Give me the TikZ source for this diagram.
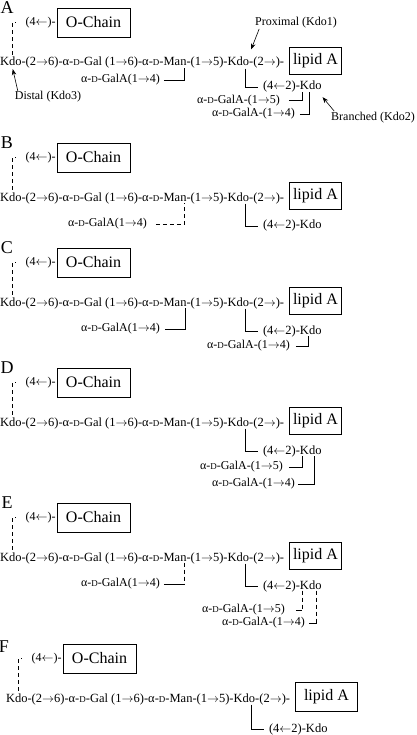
\documentclass[tikz,border=0pt]{standalone}
\usepackage{fontspec}
\setmainfont{Liberation Serif}
\usetikzlibrary{arrows.meta}
\newcommand\Dsc{{\fontsize{9}{9}\selectfont D}}
\newcommand\ra{\ensuremath{\rightarrow}}
\newcommand\la{\ensuremath{\leftarrow}}
\tikzset{
 txt/.style={inner xsep=0pt, inner ysep=0.5pt, outer sep=0pt, font=\fontsize{12}{14}\selectfont},
 seg/.style={txt, anchor=base west, inner ysep=0pt, font=\fontsize{12.5}{14}\selectfont},
 box/.style={draw, line width=0.8pt, inner sep=0pt, font=\fontsize{16}{18}\selectfont},
 letter/.style={inner sep=0pt, font=\fontsize{18}{20}\selectfont},
 link/.style={line width=0.7pt},
 dlink/.style={line width=0.7pt, dash pattern=on 4pt off 3pt},
 pointer/.style={line width=0.6pt, -{Stealth[length=6pt,width=4.5pt]}},
}
\newcommand\backbone[3]{%
 \node[seg] (#1kdo3) at (0,66) {Kdo};
 \node[seg] (#1m2) at (#1kdo3.base east) {-(2\ra6)-α-\Dsc-Gal (1\ra6)-α-\Dsc-};
 \node[seg] (#1man) at (#1m2.base east) {Man};
 \node[seg] (#1m4) at (#1man.base east) {-(1\ra5)-};
 \node[seg] (#1kdo1) at (#1m4.base east) {Kdo};
 \node[seg] (#1m6) at (#1kdo1.base east) {-(2\ra)-};
 \node[box, minimum width=73pt, minimum height=29pt] (#1och) at (93.5,22.5) {O-Chain};
 \node[txt, anchor=east, inner xsep=1pt] (#1lnk) at (#1och.west) {(4\la)-};
 \draw[dlink] ([xshift=2pt,yshift=2.5pt]#1kdo3.north) |- ([xshift=-9pt]#1lnk.west);
 \node[box, minimum width=#2, minimum height=#3, anchor=west] (#1lip) at ([xshift=5pt]#1m6.east |- 0,60.5) {lipid A};
}
\newcommand\branch[2]{%
 \node[seg] (#1b) at (263,#2) {(4\la2)-};
 \node[seg] (#1kdo2) at (#1b.base east) {Kdo};
 \draw[link] ([xshift=-4pt,yshift=-2.5pt]#1kdo1.south east) |- ([xshift=-5pt]#1b.west);
}
\begin{document}
\begin{tikzpicture}[x=1pt,y=-1pt]
\useasboundingbox[fill=white] (0,0) rectangle (416,735);
% ---------- A
\begin{scope}
 \node[letter] (Alet) at (7,8) {A};
 \backbone{A}{52pt}{27pt}
 \branch{A}{90}
 \node[txt, anchor=west] (Agal) at (81,80) {α-\Dsc-GalA(1\ra4)};
 \draw[link] ([xshift=4pt]Agal.east) -| ([xshift=-2pt,yshift=-1.5pt]Aman.south east);
 \node[txt, anchor=west] (Ag5) at (197,100.5) {α-\Dsc-GalA-(1\ra5)};
 \draw[link] ([xshift=9pt]Ag5.east) -| ([xshift=2pt,yshift=-1.5pt]Akdo2.south west);
 \node[txt, anchor=west] (Ag4) at (212,114) {α-\Dsc-GalA-(1\ra4)};
 \draw[link] ([xshift=5pt]Ag4.east) -| ([xshift=-1pt,yshift=-1.5pt]Akdo2.south);
 \node[txt] (Aprox) at (296,23) {Proximal (Kdo1)};
 \draw[pointer] ([xshift=4pt]Aprox.south west) -- ([xshift=2pt,yshift=8pt]Akdo1.north east);
 \node[txt] (Adist) at (48,97) {Distal (Kdo3)};
 \draw[pointer] ([xshift=3pt]Adist.north west) -- ([xshift=2pt,yshift=-3pt]Akdo3.south);
 \node[txt] (Abr) at (373,118) {Branched (Kdo2)};
 \draw[pointer] ([xshift=3pt,yshift=1pt]Abr.north west) -- ([xshift=1pt,yshift=-7pt]Akdo2.south east);
\end{scope}
% ---------- B
\begin{scope}[shift={(0,135)}]
 \node[letter] (Blet) at (7,8) {B};
 \backbone{B}{52pt}{27pt}
 \branch{B}{94}
 \node[txt, anchor=west] (Bgal) at (68,89) {α-\Dsc-GalA(1\ra4)};
 \draw[dlink] ([xshift=9pt]Bgal.east) -| ([xshift=-2pt,yshift=-1.5pt]Bman.south east);
\end{scope}
% ---------- C
\begin{scope}[shift={(0,240)}]
 \node[letter] (Clet) at (7,8) {C};
 \backbone{C}{52pt}{27pt}
 \branch{C}{94}
 \node[txt, anchor=west] (Cgal) at (81,89) {α-\Dsc-GalA(1\ra4)};
 \draw[link] ([xshift=5pt]Cgal.east) -| ([xshift=-1pt,yshift=-1.5pt]Cman.south east);
 \node[txt, anchor=west] (Cg4) at (207,106) {α-\Dsc-GalA-(1\ra4)};
 \draw[link] ([xshift=6pt]Cg4.east) -| ([xshift=-2pt,yshift=-1.5pt]Ckdo2.south);
\end{scope}
% ---------- D
\begin{scope}[shift={(0,360)}]
 \node[letter] (Dlet) at (7,8) {D};
 \backbone{D}{52pt}{27pt}
 \branch{D}{94}
 \node[txt, anchor=west] (Dg5) at (200,107) {α-\Dsc-GalA-(1\ra5)};
 \draw[link] ([xshift=6pt]Dg5.east) -| ([xshift=2pt,yshift=-1.5pt]Dkdo2.south west);
 \node[txt, anchor=west] (Dg4) at (212,124) {α-\Dsc-GalA-(1\ra4)};
 \draw[link] ([xshift=3pt]Dg4.east) -| ([xshift=-7pt,yshift=-1.5pt]Dkdo2.south east);
\end{scope}
% ---------- E
\begin{scope}[shift={(0,495)}]
 \node[letter] (Elet) at (7,8) {E};
 \backbone{E}{52pt}{27pt}
 \branch{E}{94}
 \node[txt, anchor=west] (Egal) at (81,89) {α-\Dsc-GalA(1\ra4)};
 \draw[dlink] ([xshift=-2pt,yshift=-1.5pt]Eman.south east) -- ([xshift=-2pt]Eman.south east |- Egal.east);
 \draw[link] ([xshift=4pt]Egal.east) -- ([xshift=-2pt]Eman.south east |- Egal.east);
 \node[txt, anchor=west] (Eg5) at (202,115) {α-\Dsc-GalA-(1\ra5)};
 \draw[dlink] ([xshift=2pt,yshift=-1.5pt]Ekdo2.south west) -- ([xshift=2pt]Ekdo2.south west |- Eg5.east);
 \draw[link] ([xshift=11pt]Eg5.east) -- ([xshift=2pt]Ekdo2.south west |- Eg5.east);
 \node[txt, anchor=west] (Eg4) at (222,128) {α-\Dsc-GalA-(1\ra4)};
 \draw[dlink] ([xshift=-5pt,yshift=-1.5pt]Ekdo2.south east) -- ([xshift=-5pt]Ekdo2.south east |- Eg4.east);
 \draw[link] ([xshift=4pt]Eg4.east) -- ([xshift=-5pt]Ekdo2.south east |- Eg4.east);
\end{scope}
% ---------- F
\begin{scope}[shift={(6,636)}]
 \node[letter] (Flet) at (-2,11) {F};
 \backbone{F}{62pt}{29pt}
 \branch{F}{96}
\end{scope}
\end{tikzpicture}
\end{document}
